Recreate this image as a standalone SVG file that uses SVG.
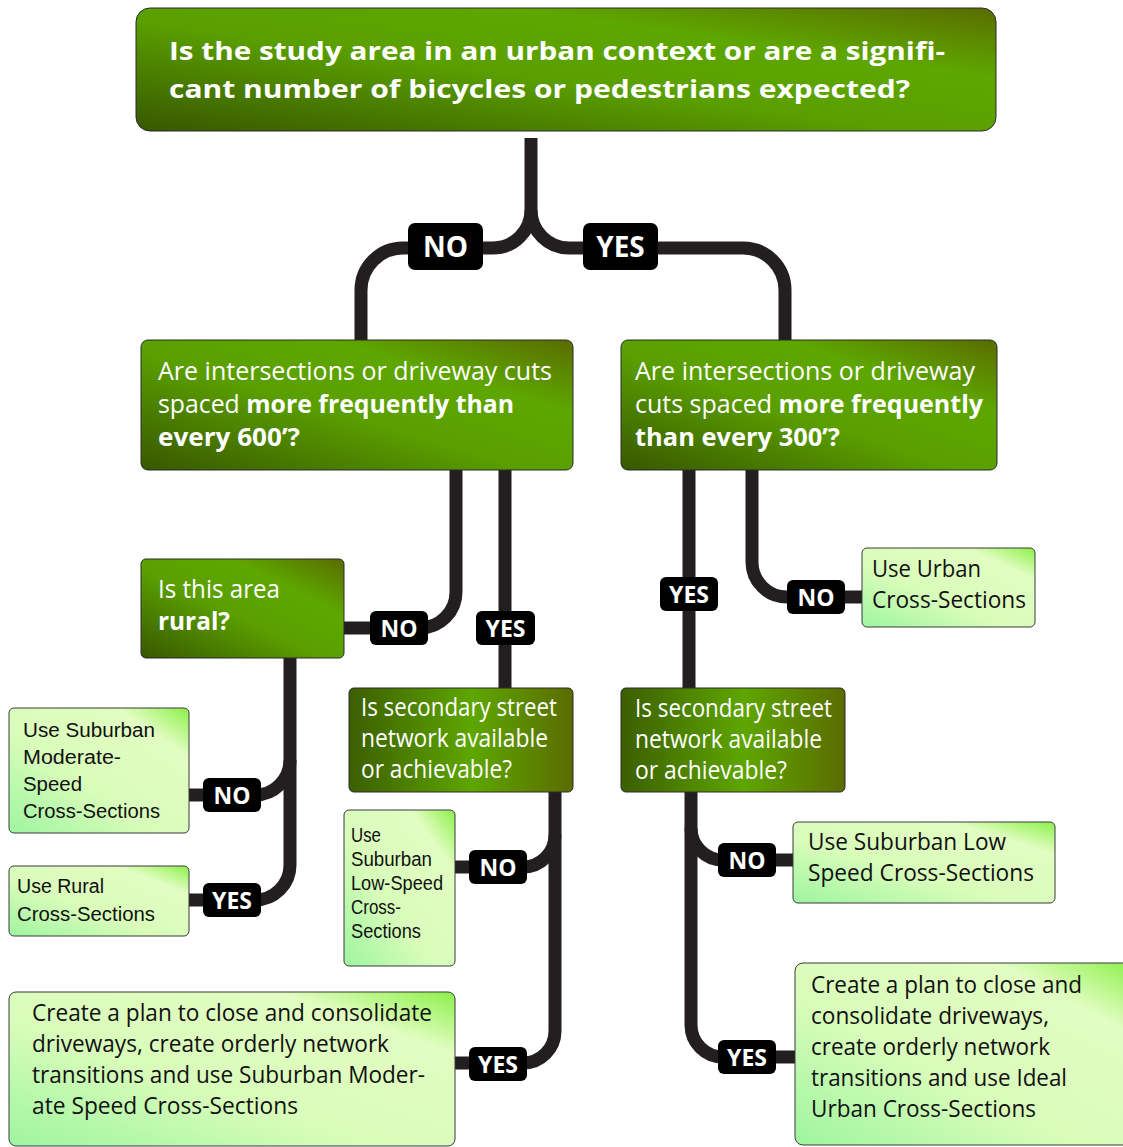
<svg xmlns="http://www.w3.org/2000/svg" width="1123" height="1147" viewBox="0 0 1123 1147">
  <defs>
    <linearGradient id="deep" x1="0" y1="1" x2="1" y2="0">
      <stop offset="0" stop-color="#385700"/>
      <stop offset="0.45" stop-color="#5a9f00"/>
      <stop offset="0.72" stop-color="#5ea600"/>
      <stop offset="1" stop-color="#5a6c00"/>
    </linearGradient>
    <linearGradient id="deepH" x1="0" y1="0" x2="1" y2="0">
      <stop offset="0" stop-color="#3c5e00"/>
      <stop offset="0.55" stop-color="#5ea600"/>
      <stop offset="1" stop-color="#5a6c00"/>
    </linearGradient>
    <linearGradient id="lite" x1="0" y1="1" x2="1" y2="0">
      <stop offset="0" stop-color="#9ef5a0"/>
      <stop offset="0.4" stop-color="#d8fcba"/>
      <stop offset="0.8" stop-color="#e2fdc2"/>
      <stop offset="1" stop-color="#8cf04a"/>
    </linearGradient>
    <style>
      .q { stroke: #2b2b2b; stroke-width: 1; }
      .a { fill: url(#lite); stroke: #3a3a3a; stroke-width: 1; }
      .wire { fill: none; stroke: #231f20; stroke-width: 13; }
      .tag { fill: #000; }
      .tagt { font-family: "Open Sans", "Liberation Sans", sans-serif; font-weight: 700; fill: #fff; text-anchor: middle; }
      .wt { font-family: "Open Sans", "Liberation Sans", sans-serif; fill: #fff; font-size: 25px; }
      .bt { font-family: "Open Sans", "Liberation Sans", sans-serif; fill: #111; font-size: 23px; }
      .st { font-family: "Liberation Sans", "Open Sans", sans-serif; fill: #111; font-size: 20px; }
      .b { font-weight: 700; }
    </style>
  </defs>

  <!-- connectors -->
  <g id="connectors">
    <path class="wire" d="M531,138 V210 A38,38 0 0 1 493,248 H403 A42,42 0 0 0 361,290 V340"/>
    <path class="wire" d="M531,210 A38,38 0 0 0 569,248 H743 A42,42 0 0 1 785,290 V340"/>
    <path class="wire" d="M456,470 V592 A36,36 0 0 1 420,628 H344"/>
    <path class="wire" d="M505,470 V688"/>
    <path class="wire" d="M689,470 V688"/>
    <path class="wire" d="M752,470 V562 A35,35 0 0 0 787,597 H862"/>
    <path class="wire" d="M290,658 V760 A35,35 0 0 1 255,795 H189"/>
    <path class="wire" d="M290,760 V865 A35,35 0 0 1 255,900 H189"/>
    <path class="wire" d="M555,792 V835 A32,32 0 0 1 523,867 H455"/>
    <path class="wire" d="M555,835 V1031 A32,32 0 0 1 523,1063 H455"/>
    <path class="wire" d="M691,792 V828 A32,32 0 0 0 723,860 H793"/>
    <path class="wire" d="M691,828 V1025 A32,32 0 0 0 723,1057 H795"/>

    <g id="tags">
      <rect class="tag" x="408" y="223" width="75" height="47" rx="7"/>
      <text class="tagt" x="445.5" y="257" font-size="28">NO</text>
      <rect class="tag" x="583" y="223" width="75" height="47" rx="7"/>
      <text class="tagt" x="620.5" y="257" font-size="28">YES</text>

      <rect class="tag" x="370" y="611" width="58" height="34" rx="6"/>
      <text class="tagt" x="399" y="637" font-size="23">NO</text>
      <rect class="tag" x="476" y="611" width="59" height="34" rx="6"/>
      <text class="tagt" x="505.5" y="637" font-size="23">YES</text>

      <rect class="tag" x="660" y="577" width="58" height="34" rx="6"/>
      <text class="tagt" x="689" y="603" font-size="23">YES</text>
      <rect class="tag" x="787" y="580" width="58" height="34" rx="6"/>
      <text class="tagt" x="816" y="606" font-size="23">NO</text>

      <rect class="tag" x="203" y="778" width="58" height="34" rx="6"/>
      <text class="tagt" x="232" y="804" font-size="23">NO</text>
      <rect class="tag" x="203" y="883" width="58" height="34" rx="6"/>
      <text class="tagt" x="232" y="909" font-size="23">YES</text>

      <rect class="tag" x="469" y="850" width="58" height="34" rx="6"/>
      <text class="tagt" x="498" y="876" font-size="23">NO</text>
      <rect class="tag" x="469" y="1047" width="58" height="34" rx="6"/>
      <text class="tagt" x="498" y="1073" font-size="23">YES</text>

      <rect class="tag" x="718" y="843" width="58" height="34" rx="6"/>
      <text class="tagt" x="747" y="869" font-size="23">NO</text>
      <rect class="tag" x="718" y="1040" width="58" height="34" rx="6"/>
      <text class="tagt" x="747" y="1066" font-size="23">YES</text>
    </g>
  </g>

  <!-- question nodes -->
  <g id="q-urban">
    <rect class="q" x="136" y="8" width="860" height="123" rx="14" fill="url(#deep)"/>
    <text class="wt b" font-size="36" x="169" y="60" textLength="776" lengthAdjust="spacingAndGlyphs">Is the study area in an urban context or are a signifi-</text>
    <text class="wt b" font-size="36" x="169" y="98" textLength="741" lengthAdjust="spacingAndGlyphs">cant number of bicycles or pedestrians expected?</text>
  </g>

  <g id="q-spacing-600">
    <rect class="q" x="141" y="340" width="432" height="130" rx="7" fill="url(#deep)"/>
    <text class="wt" x="158" y="380" textLength="394" lengthAdjust="spacingAndGlyphs">Are intersections or driveway cuts</text>
    <text class="wt" x="158" y="413" textLength="356" lengthAdjust="spacingAndGlyphs">spaced <tspan class="b">more frequently than</tspan></text>
    <text class="wt b" x="158" y="446" textLength="142" lengthAdjust="spacingAndGlyphs">every 600’?</text>
  </g>

  <g id="q-spacing-300">
    <rect class="q" x="621" y="340" width="376" height="130" rx="7" fill="url(#deep)"/>
    <text class="wt" x="635" y="380" textLength="340" lengthAdjust="spacingAndGlyphs">Are intersections or driveway</text>
    <text class="wt" x="635" y="413" textLength="348" lengthAdjust="spacingAndGlyphs">cuts spaced <tspan class="b">more frequently</tspan></text>
    <text class="wt b" x="635" y="446" textLength="205" lengthAdjust="spacingAndGlyphs">than every 300’?</text>
  </g>

  <g id="q-rural">
    <rect class="q" x="141" y="559" width="203" height="99" rx="5" fill="url(#deep)"/>
    <text class="wt" x="158" y="598" textLength="122" lengthAdjust="spacingAndGlyphs">Is this area</text>
    <text class="wt b" x="158" y="630" textLength="72" lengthAdjust="spacingAndGlyphs">rural?</text>
  </g>

  <g id="q-secondary-left">
    <rect class="q" x="349" y="688" width="224" height="104" rx="5" fill="url(#deepH)"/>
    <text class="wt" font-size="23" x="361" y="716" textLength="196" lengthAdjust="spacingAndGlyphs">Is secondary street</text>
    <text class="wt" font-size="23" x="361" y="747" textLength="187" lengthAdjust="spacingAndGlyphs">network available</text>
    <text class="wt" font-size="23" x="361" y="778" textLength="151" lengthAdjust="spacingAndGlyphs">or achievable?</text>
  </g>

  <g id="q-secondary-right">
    <rect class="q" x="621" y="688" width="224" height="104" rx="5" fill="url(#deepH)"/>
    <text class="wt" font-size="23" x="635" y="717" textLength="197" lengthAdjust="spacingAndGlyphs">Is secondary street</text>
    <text class="wt" font-size="23" x="635" y="748" textLength="187" lengthAdjust="spacingAndGlyphs">network available</text>
    <text class="wt" font-size="23" x="635" y="779" textLength="152" lengthAdjust="spacingAndGlyphs">or achievable?</text>
  </g>

  <!-- outcome nodes -->
  <g id="r-urban">
    <rect class="a" x="862" y="548" width="173" height="79" rx="5"/>
    <text class="bt" x="872" y="577" textLength="109" lengthAdjust="spacingAndGlyphs">Use Urban</text>
    <text class="bt" x="872" y="608" textLength="154" lengthAdjust="spacingAndGlyphs">Cross-Sections</text>
  </g>

  <g id="r-suburban-moderate">
    <rect class="a" x="9" y="708" width="180" height="125" rx="5"/>
    <text class="st" font-size="23.5" x="23" y="737" textLength="132" lengthAdjust="spacingAndGlyphs">Use Suburban</text>
    <text class="st" font-size="23.5" x="23" y="764" textLength="98" lengthAdjust="spacingAndGlyphs">Moderate-</text>
    <text class="st" font-size="23.5" x="23" y="791" textLength="59" lengthAdjust="spacingAndGlyphs">Speed</text>
    <text class="st" font-size="23.5" x="23" y="818" textLength="137" lengthAdjust="spacingAndGlyphs">Cross-Sections</text>
  </g>

  <g id="r-rural">
    <rect class="a" x="9" y="866" width="180" height="70" rx="5"/>
    <text class="st" font-size="23.5" x="17" y="893" textLength="87" lengthAdjust="spacingAndGlyphs">Use Rural</text>
    <text class="st" font-size="23.5" x="17" y="921" textLength="138" lengthAdjust="spacingAndGlyphs">Cross-Sections</text>
  </g>

  <g id="r-suburban-low-left">
    <rect class="a" x="344" y="810" width="111" height="156" rx="5"/>
    <text class="st" x="351" y="842" textLength="30" lengthAdjust="spacingAndGlyphs">Use</text>
    <text class="st" x="351" y="866" textLength="81" lengthAdjust="spacingAndGlyphs">Suburban</text>
    <text class="st" x="351" y="890" textLength="92" lengthAdjust="spacingAndGlyphs">Low-Speed</text>
    <text class="st" x="351" y="914" textLength="50" lengthAdjust="spacingAndGlyphs">Cross-</text>
    <text class="st" x="351" y="938" textLength="70" lengthAdjust="spacingAndGlyphs">Sections</text>
  </g>

  <g id="r-suburban-low-right">
    <rect class="a" x="793" y="822" width="262" height="81" rx="5"/>
    <text class="bt" x="808" y="850" textLength="198" lengthAdjust="spacingAndGlyphs">Use Suburban Low</text>
    <text class="bt" x="808" y="881" textLength="226" lengthAdjust="spacingAndGlyphs">Speed Cross-Sections</text>
  </g>

  <g id="r-plan-moderate">
    <rect class="a" x="9" y="992" width="446" height="154" rx="7"/>
    <text class="bt" x="32" y="1021" textLength="400" lengthAdjust="spacingAndGlyphs">Create a plan to close and consolidate</text>
    <text class="bt" x="32" y="1052" textLength="357" lengthAdjust="spacingAndGlyphs">driveways, create orderly network</text>
    <text class="bt" x="32" y="1083" textLength="393" lengthAdjust="spacingAndGlyphs">transitions and use Suburban Moder-</text>
    <text class="bt" x="32" y="1114" textLength="266" lengthAdjust="spacingAndGlyphs">ate Speed Cross-Sections</text>
  </g>

  <g id="r-plan-ideal">
    <rect class="a" x="795" y="963" width="340" height="182" rx="8"/>
    <text class="bt" x="811" y="993" textLength="271" lengthAdjust="spacingAndGlyphs">Create a plan to close and</text>
    <text class="bt" x="811" y="1024" textLength="238" lengthAdjust="spacingAndGlyphs">consolidate driveways,</text>
    <text class="bt" x="811" y="1055" textLength="239" lengthAdjust="spacingAndGlyphs">create orderly network</text>
    <text class="bt" x="811" y="1086" textLength="256" lengthAdjust="spacingAndGlyphs">transitions and use Ideal</text>
    <text class="bt" x="811" y="1117" textLength="225" lengthAdjust="spacingAndGlyphs">Urban Cross-Sections</text>
  </g>
</svg>
